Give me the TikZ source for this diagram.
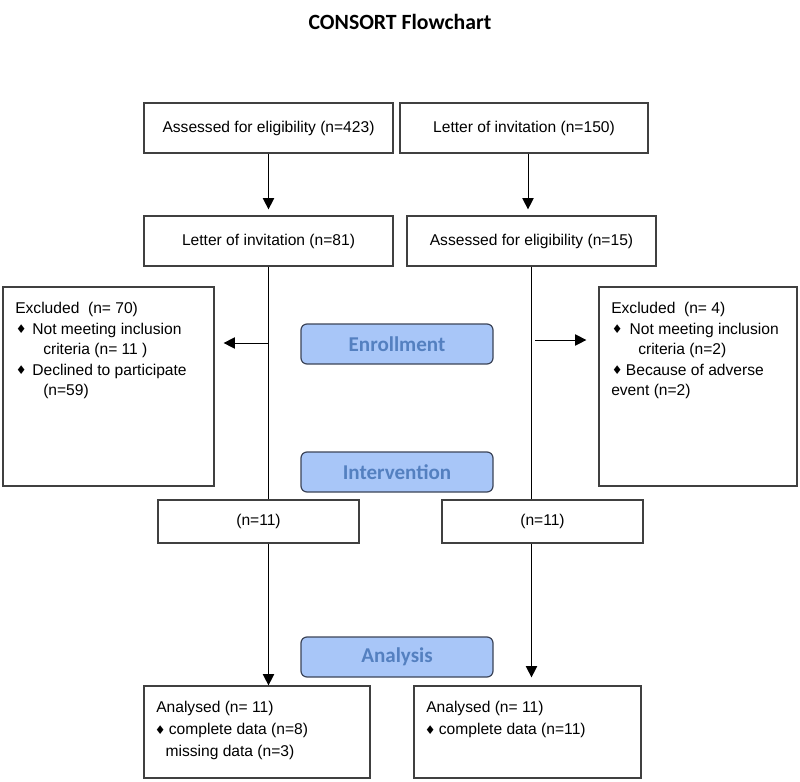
\documentclass[tikz,border=0pt]{standalone}
\usepackage{fontspec}
\setmainfont{Liberation Sans}
\newfontfamily\titlefont{Carlito}
\newfontfamily\symfont{DejaVu Sans}
\usetikzlibrary{arrows.meta}
\definecolor{phasefill}{RGB}{168,198,248}
\definecolor{phasetext}{RGB}{84,128,192}
\definecolor{phaseline}{RGB}{60,68,88}
\newcommand{\dmd}{\makebox[6pt][c]{\raisebox{0.4pt}{\symfont\fontsize{9}{9}\selectfont ♦}}}
\tikzset{
  sz/.style 2 args={minimum width=#1*0.75pt, minimum height=#2*0.75pt},
  box/.style={draw=black!75, line width=0.9pt, inner sep=0pt, font=\fontsize{11.7}{15.4}\selectfont},
  phase/.style={draw=phaseline, line width=0.9pt, fill=phasefill, rounded corners=4.5pt,
    inner sep=0pt, text=phasetext, font=\titlefont\bfseries\fontsize{15.8}{18}\selectfont},
  txt/.style={anchor=north west, inner sep=0pt, align=left, font=\fontsize{11.7}{15.4}\selectfont},
  arr/.style={-{Triangle[length=8.5pt,width=8.5pt]}, line width=0.75pt},
  line/.style={line width=0.75pt},
}
\begin{document}
\begin{tikzpicture}[x=0.75pt,y=-0.75pt]
  \useasboundingbox (0,0) rectangle (800,782);
  \node[font=\titlefont\bfseries\fontsize{16.3}{20}\selectfont] (title) at (400,22) {CONSORT Flowchart};

  \node[box, sz={249}{50}] (A) at (268.5,128) {Assessed for eligibility (n=423)};
  \node[box, sz={248}{50}] (B) at (524,128) {Letter of invitation (n=150)};
  \node[box, sz={249}{50}] (C) at (268.5,241) {Letter of invitation (n=81)};
  \node[box, sz={249}{50}] (D) at (531.5,241) {Assessed for eligibility (n=15)};

  \node[box, sz={211}{199}] (exL) at (108.5,386.5) {};
  \node[txt] (exLtxt) at (15,302) {Excluded\ \ (n= 70)\\
    \hspace*{1.5pt}\dmd\hspace*{5.3pt}Not meeting inclusion\\
    \hspace*{21pt}criteria (n= 11 )\\
    \hspace*{1.5pt}\dmd\hspace*{5.3pt}Declined to participate\\
    \hspace*{21pt}(n=59)};
  \node[box, sz={198}{199}] (exR) at (698,386.5) {};
  \node[txt] (exRtxt) at (611,302) {Excluded\ \ (n= 4)\\
    \hspace*{1.5pt}\dmd\hspace*{6.3pt}Not meeting inclusion\\
    \hspace*{20.25pt}criteria (n=2)\\
    \hspace*{1.5pt}\dmd\hspace*{3.5pt}Because of adverse\\
    event (n=2)};

  \node[phase, sz={192}{40}] (enrol) at (397,344) {Enrollment};
  \node[phase, sz={192}{40}] (interv) at (397,472) {Intervention};
  \node[phase, sz={192}{40}] (analys) at (397,657) {Analysis};

  \node[box, sz={201}{43}] (nL) at (258.5,521.5) {(n=11)};
  \node[box, sz={201}{43}] (nR) at (542.5,521.5) {(n=11)};

  \node[box, sz={226}{92}] (aL) at (257,732) {};
  \node[txt, font=\fontsize{11.7}{16.5}\selectfont] (aLtxt) at (156,701) {Analysed (n= 11)\\
    \dmd\hspace*{3.5pt}complete data (n=8)\\
    \hspace*{7pt}missing data (n=3)};
  \node[box, sz={227}{92}] (aR) at (527.5,732) {};
  \node[txt, font=\fontsize{11.7}{16.5}\selectfont] (aRtxt) at (426,701) {Analysed (n= 11)\\
    \dmd\hspace*{3.5pt}complete data (n=11)};

  \coordinate (bL) at (268.5,343);
  \coordinate (bR) at (535,340);
  \begin{scope}[arr]
    \draw[shorten >=4.5pt] (A.south) to (A.south |- C.north);
    \draw[shorten >=4.5pt] ([xshift=3pt]B.south) to ([xshift=3pt]B.south |- D.north);
    \draw[shorten >=6.75pt] (bL) to (bL -| exL.east);
    \draw[shorten >=9pt] (bR) to (bR -| exR.west);
    \draw (C.south |- nL.south) to (C.south |- aL.north);
    \draw[shorten >=6pt] (D.south |- nR.south) to (D.south |- aR.north);
  \end{scope}
  \begin{scope}[line]
    \draw (C.south) to (C.south |- nL.north);
    \draw (D.south) to (D.south |- nR.north);
  \end{scope}
\end{tikzpicture}
\end{document}
